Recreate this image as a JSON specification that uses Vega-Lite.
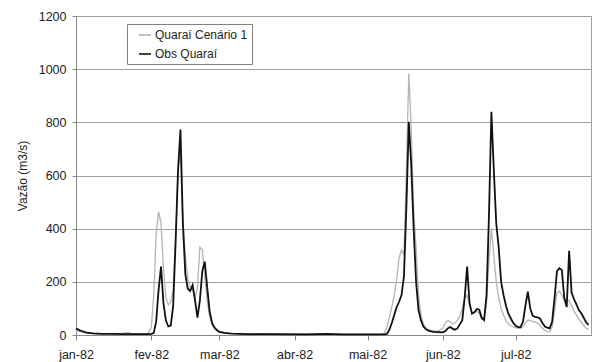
{
  "$schema": "https://vega.github.io/schema/vega-lite/v6.json",
  "autosize": {"type": "none"},
  "padding": {"left": 76, "top": 16, "right": 2, "bottom": 27},
  "width": 515,
  "height": 319,
  "background": "white",
  "config": {
    "font": "Liberation Sans",
    "view": {"stroke": "#a0a0a0", "strokeWidth": 1},
    "axis": {"labelFont": "Liberation Sans", "titleFont": "Liberation Sans", "labelColor": "#222", "titleColor": "#222"}
  },
  "data": {"values": [
    {"d": "1982-01-01T00:00", "g": 18, "b": 25},
    {"d": "1982-01-02T00:00", "g": 15, "b": 20},
    {"d": "1982-01-03T00:00", "g": 12, "b": 16},
    {"d": "1982-01-05T00:00", "g": 8, "b": 10},
    {"d": "1982-01-08T00:00", "g": 5, "b": 6},
    {"d": "1982-01-12T00:00", "g": 4, "b": 4},
    {"d": "1982-01-17T00:00", "g": 4, "b": 4},
    {"d": "1982-01-20T00:00", "g": 6, "b": 3},
    {"d": "1982-01-22T00:00", "g": 10, "b": 3},
    {"d": "1982-01-24T00:00", "g": 5, "b": 3},
    {"d": "1982-01-28T00:00", "g": 3, "b": 3},
    {"d": "1982-01-30T00:00", "g": 4, "b": 3},
    {"d": "1982-01-31T00:00", "g": 10, "b": 3},
    {"d": "1982-02-01T00:00", "g": 30, "b": 4},
    {"d": "1982-02-02T00:00", "g": 150, "b": 8},
    {"d": "1982-02-03T00:00", "g": 380, "b": 50},
    {"d": "1982-02-04T00:00", "g": 463, "b": 170},
    {"d": "1982-02-05T00:00", "g": 420, "b": 257},
    {"d": "1982-02-06T00:00", "g": 250, "b": 120},
    {"d": "1982-02-07T00:00", "g": 140, "b": 55},
    {"d": "1982-02-08T00:00", "g": 113, "b": 32},
    {"d": "1982-02-09T00:00", "g": 125, "b": 35},
    {"d": "1982-02-10T00:00", "g": 169, "b": 110},
    {"d": "1982-02-11T00:00", "g": 360, "b": 350},
    {"d": "1982-02-12T00:00", "g": 620, "b": 620},
    {"d": "1982-02-13T00:00", "g": 690, "b": 773},
    {"d": "1982-02-14T00:00", "g": 430, "b": 420},
    {"d": "1982-02-15T00:00", "g": 300, "b": 230},
    {"d": "1982-02-16T00:00", "g": 215, "b": 175},
    {"d": "1982-02-17T00:00", "g": 180, "b": 165},
    {"d": "1982-02-18T00:00", "g": 170, "b": 188},
    {"d": "1982-02-19T00:00", "g": 140, "b": 130},
    {"d": "1982-02-20T00:00", "g": 180, "b": 65},
    {"d": "1982-02-21T00:00", "g": 330, "b": 130},
    {"d": "1982-02-22T00:00", "g": 320, "b": 240},
    {"d": "1982-02-23T00:00", "g": 220, "b": 276},
    {"d": "1982-02-24T00:00", "g": 130, "b": 180},
    {"d": "1982-02-25T00:00", "g": 70, "b": 90},
    {"d": "1982-02-26T00:00", "g": 40, "b": 45},
    {"d": "1982-02-27T00:00", "g": 25, "b": 28},
    {"d": "1982-02-28T00:00", "g": 18, "b": 18},
    {"d": "1982-03-01T00:00", "g": 14, "b": 12},
    {"d": "1982-03-03T00:00", "g": 9, "b": 8},
    {"d": "1982-03-06T00:00", "g": 6, "b": 5},
    {"d": "1982-03-12T00:00", "g": 4, "b": 3},
    {"d": "1982-03-22T00:00", "g": 3, "b": 3},
    {"d": "1982-04-06T00:00", "g": 3, "b": 2},
    {"d": "1982-04-14T00:00", "g": 3, "b": 4},
    {"d": "1982-04-21T00:00", "g": 2, "b": 2},
    {"d": "1982-05-01T00:00", "g": 2, "b": 2},
    {"d": "1982-05-07T00:00", "g": 2, "b": 2},
    {"d": "1982-05-08T00:00", "g": 8, "b": 2},
    {"d": "1982-05-09T00:00", "g": 30, "b": 4},
    {"d": "1982-05-10T00:00", "g": 65, "b": 20},
    {"d": "1982-05-11T00:00", "g": 106, "b": 45},
    {"d": "1982-05-12T00:00", "g": 150, "b": 75},
    {"d": "1982-05-13T00:00", "g": 210, "b": 105},
    {"d": "1982-05-14T00:00", "g": 290, "b": 125},
    {"d": "1982-05-15T00:00", "g": 320, "b": 150},
    {"d": "1982-05-16T00:00", "g": 300, "b": 220},
    {"d": "1982-05-17T00:00", "g": 620, "b": 480},
    {"d": "1982-05-18T00:00", "g": 984, "b": 802},
    {"d": "1982-05-19T00:00", "g": 780, "b": 640},
    {"d": "1982-05-20T00:00", "g": 470, "b": 400},
    {"d": "1982-05-21T00:00", "g": 330, "b": 200},
    {"d": "1982-05-22T00:00", "g": 150, "b": 95},
    {"d": "1982-05-23T00:00", "g": 75, "b": 55},
    {"d": "1982-05-24T00:00", "g": 42, "b": 32},
    {"d": "1982-05-25T00:00", "g": 28, "b": 22},
    {"d": "1982-05-26T00:00", "g": 20, "b": 16},
    {"d": "1982-05-28T00:00", "g": 15, "b": 12},
    {"d": "1982-05-30T00:00", "g": 14, "b": 11},
    {"d": "1982-06-01T00:00", "g": 25, "b": 10},
    {"d": "1982-06-02T00:00", "g": 45, "b": 15},
    {"d": "1982-06-03T00:00", "g": 55, "b": 25},
    {"d": "1982-06-04T00:00", "g": 50, "b": 30},
    {"d": "1982-06-05T00:00", "g": 42, "b": 24},
    {"d": "1982-06-06T00:00", "g": 45, "b": 20},
    {"d": "1982-06-07T00:00", "g": 55, "b": 25},
    {"d": "1982-06-08T00:00", "g": 70, "b": 40},
    {"d": "1982-06-09T00:00", "g": 100, "b": 55},
    {"d": "1982-06-10T00:00", "g": 140, "b": 140},
    {"d": "1982-06-11T00:00", "g": 150, "b": 257},
    {"d": "1982-06-12T00:00", "g": 110, "b": 120},
    {"d": "1982-06-13T00:00", "g": 85, "b": 80},
    {"d": "1982-06-14T00:00", "g": 85, "b": 85},
    {"d": "1982-06-15T00:00", "g": 90, "b": 98},
    {"d": "1982-06-16T00:00", "g": 80, "b": 95},
    {"d": "1982-06-17T00:00", "g": 60, "b": 65},
    {"d": "1982-06-18T00:00", "g": 60, "b": 56},
    {"d": "1982-06-19T00:00", "g": 120, "b": 150},
    {"d": "1982-06-20T00:00", "g": 280, "b": 450},
    {"d": "1982-06-21T00:00", "g": 400, "b": 840},
    {"d": "1982-06-22T00:00", "g": 300, "b": 620},
    {"d": "1982-06-23T00:00", "g": 200, "b": 420},
    {"d": "1982-06-24T00:00", "g": 140, "b": 330},
    {"d": "1982-06-25T00:00", "g": 100, "b": 200},
    {"d": "1982-06-26T00:00", "g": 75, "b": 150},
    {"d": "1982-06-27T00:00", "g": 55, "b": 110},
    {"d": "1982-06-28T00:00", "g": 42, "b": 80},
    {"d": "1982-06-29T00:00", "g": 35, "b": 62},
    {"d": "1982-06-30T00:00", "g": 30, "b": 45},
    {"d": "1982-07-01T00:00", "g": 28, "b": 35},
    {"d": "1982-07-02T00:00", "g": 25, "b": 30},
    {"d": "1982-07-03T00:00", "g": 25, "b": 30},
    {"d": "1982-07-04T00:00", "g": 30, "b": 50},
    {"d": "1982-07-05T00:00", "g": 45, "b": 110},
    {"d": "1982-07-06T00:00", "g": 56, "b": 163},
    {"d": "1982-07-07T00:00", "g": 55, "b": 100},
    {"d": "1982-07-08T00:00", "g": 50, "b": 72},
    {"d": "1982-07-09T00:00", "g": 48, "b": 68},
    {"d": "1982-07-10T00:00", "g": 45, "b": 66},
    {"d": "1982-07-11T00:00", "g": 35, "b": 62},
    {"d": "1982-07-12T00:00", "g": 25, "b": 45},
    {"d": "1982-07-13T00:00", "g": 18, "b": 32},
    {"d": "1982-07-14T00:00", "g": 14, "b": 28},
    {"d": "1982-07-15T00:00", "g": 12, "b": 25},
    {"d": "1982-07-16T00:00", "g": 30, "b": 50},
    {"d": "1982-07-17T00:00", "g": 90, "b": 140},
    {"d": "1982-07-18T00:00", "g": 160, "b": 240},
    {"d": "1982-07-19T00:00", "g": 165, "b": 251},
    {"d": "1982-07-20T00:00", "g": 150, "b": 244},
    {"d": "1982-07-21T00:00", "g": 130, "b": 140},
    {"d": "1982-07-22T00:00", "g": 125, "b": 105},
    {"d": "1982-07-23T00:00", "g": 130, "b": 317},
    {"d": "1982-07-24T00:00", "g": 110, "b": 160},
    {"d": "1982-07-25T00:00", "g": 90, "b": 135},
    {"d": "1982-07-26T00:00", "g": 75, "b": 115},
    {"d": "1982-07-27T00:00", "g": 60, "b": 94},
    {"d": "1982-07-28T00:00", "g": 48, "b": 82},
    {"d": "1982-07-29T00:00", "g": 35, "b": 65},
    {"d": "1982-07-30T00:00", "g": 25, "b": 48},
    {"d": "1982-07-31T00:00", "g": 20, "b": 38}
  ]},
  "encoding": {
    "x": {
      "field": "d", "type": "temporal",
      "scale": {"domain": [{"year": 1982, "month": 1, "date": 1}, {"year": 1982, "month": 8, "date": 1}], "nice": false},
      "axis": {
        "title": null,
        "values": [
          {"year": 1982, "month": 1, "date": 1}, {"year": 1982, "month": 2, "date": 1},
          {"year": 1982, "month": 3, "date": 1}, {"year": 1982, "month": 4, "date": 1},
          {"year": 1982, "month": 5, "date": 1}, {"year": 1982, "month": 6, "date": 1},
          {"year": 1982, "month": 7, "date": 1}
        ],
        "labelExpr": "['jan','fev','mar','abr','mai','jun','jul','ago','set','out','nov','dez'][month(datum.value)] + '-82'",
        "grid": false,
        "tickSize": 5, "tickColor": "#888", "domainColor": "#888",
        "labelFontSize": 12.5, "labelPadding": 8, "labelAlign": "center", "labelFlush": false
      }
    }
  },
  "layer": [
    {
      "mark": {"type": "line", "strokeWidth": 1.3, "interpolate": "linear"},
      "encoding": {
        "y": {
          "field": "g", "type": "quantitative",
          "scale": {"domain": [0, 1200], "nice": false},
          "axis": {
            "title": "Vazão (m3/s)", "titleFontWeight": "normal", "titleFontSize": 12, "titlePadding": 9,
            "values": [0, 200, 400, 600, 800, 1000, 1200], "format": "d",
            "grid": true, "gridColor": "#a0a0a0", "gridWidth": 1,
            "tickSize": 4, "tickColor": "#888", "domainColor": "#888",
            "labelFontSize": 12.5, "labelPadding": 6
          }
        },
        "color": {
          "datum": "Quaraí Cenário 1",
          "scale": {"domain": ["Quaraí Cenário 1", "Obs Quaraí"], "range": ["#b4b4b4", "#111111"]},
          "legend": {
            "title": null, "orient": "none", "legendX": 51, "legendY": 8,
            "strokeColor": "#808080", "fillColor": "white", "padding": 4,
            "symbolType": "stroke", "symbolSize": 144, "symbolStrokeWidth": 1.6, "symbolOffset": 7,
            "labelFontSize": 12, "labelColor": "#222", "labelOffset": 3, "rowPadding": 6
          }
        }
      }
    },
    {
      "mark": {"type": "line", "strokeWidth": 1.8, "interpolate": "linear"},
      "encoding": {
        "y": {"field": "b", "type": "quantitative"},
        "color": {"datum": "Obs Quaraí"}
      }
    }
  ]
}
